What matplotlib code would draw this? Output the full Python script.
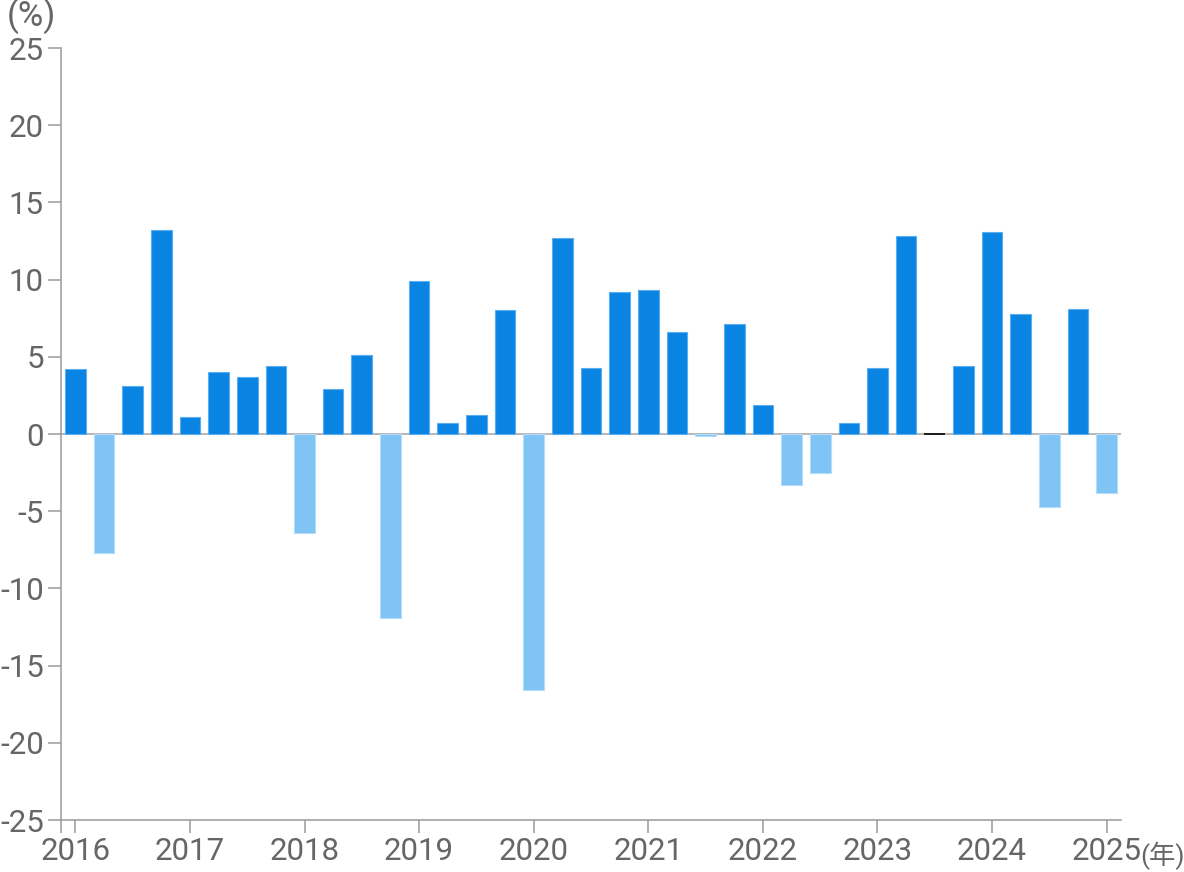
import matplotlib
matplotlib.use("Agg")
import matplotlib.pyplot as plt
import numpy as np

plt.rcParams['font.family'] = ['Roboto', 'Noto Sans CJK JP', 'DejaVu Sans']

values = [4.2, -7.7, 3.1, 13.2,
          1.1, 4.0, 3.7, 4.4,
          -6.4, 2.9, 5.1, -11.9,
          9.9, 0.7, 1.2, 8.0,
          -16.6, 12.7, 4.3, 9.2,
          9.3, 6.6, -0.1, 7.1,
          1.9, -3.3, -2.5, 0.7,
          4.3, 12.8, 0.0, 4.4,
          13.1, 7.8, -4.7, 8.1,
          -3.8]
year_labels = ['2016', '2017', '2018', '2019', '2020', '2021', '2022', '2023', '2024', '2025']
y_ticks = [25, 20, 15, 10, 5, 0, -5, -10, -15, -20, -25]

pos_color = '#0a84e3'
neg_color = '#80c3f5'
axis_color = '#9a9a9a'
text_color = '#666666'

fig = plt.figure(figsize=(11.84, 8.72), dpi=100)
ax = fig.add_axes([61/1184, 52/872, (1121-61)/1184, (820-48)/872])

x = np.arange(len(values))
for xi, v in zip(x, values):
    if v > 0:
        ax.bar(xi, v, width=0.72, color=pos_color, edgecolor='#5aaef0', linewidth=0.8, zorder=3)
    elif v < 0:
        ax.bar(xi, v, width=0.72, color=neg_color, edgecolor='#b5dcf9', linewidth=0.8, zorder=3)
    else:
        ax.bar(xi, v, width=0.72, color='black', edgecolor='black', linewidth=1.2, zorder=4)

ax.axhline(0, color='#aaaaaa', linewidth=1.2, zorder=2)

ax.set_xlim(-0.5, len(values) - 0.5)
ax.set_ylim(-25, 25)

ax.set_yticks(y_ticks)
ax.set_yticklabels([str(t) for t in y_ticks])
year_pos = [-0.5] + list(range(0, len(values), 4))
ax.set_xticks(year_pos)
ax.set_xticklabels([''] + year_labels)

for s in ['top', 'right']:
    ax.spines[s].set_visible(False)
for s in ['left', 'bottom']:
    ax.spines[s].set_color(axis_color)
    ax.spines[s].set_linewidth(1.1)

ax.tick_params(axis='both', colors=axis_color, length=9.4, width=1.1, labelsize=22.5, labelcolor=text_color)
ax.tick_params(axis='y', pad=3)
ax.tick_params(axis='x', pad=3)

fig.text(7/1184, 1 - 26/872, '(%)', fontsize=25, color=text_color, ha='left', va='baseline')
fig.text(1140/1184, 1 - 864/872, '(年)', fontsize=19, color=text_color, ha='left', va='baseline')

fig.savefig('out.png', dpi=100)
